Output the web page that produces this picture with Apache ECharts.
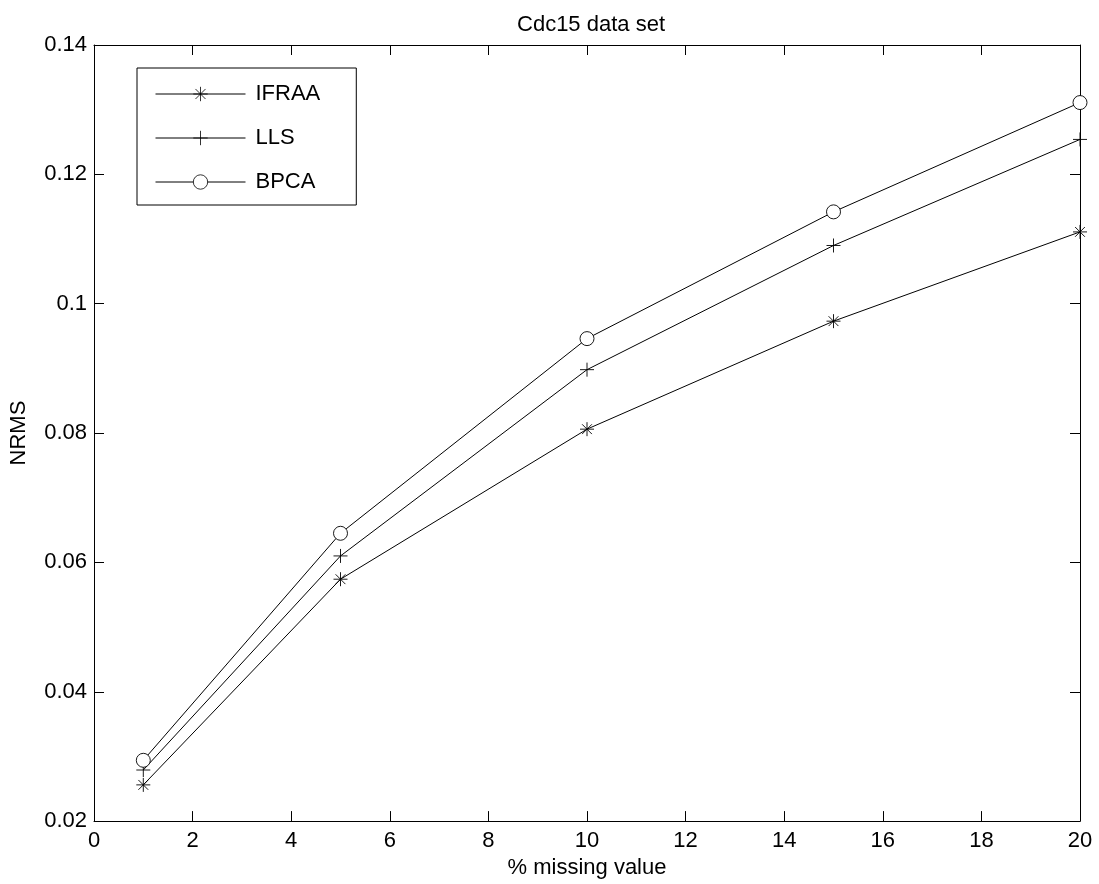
<!DOCTYPE html>
<html>
<head>
<meta charset="utf-8">
<script src="https://cdn.jsdelivr.net/npm/echarts@6/dist/echarts.min.js"></script>
<style>
  html, body { margin: 0; padding: 0; background: #fff; }
  #chart { width: 1099px; height: 884px; }
</style>
</head>
<body>
<div id="chart"></div>
<script>
// % missing value
const missing = [1, 5, 10, 15, 20];
// NRMS per method
const ifraa = [0.0256, 0.0574, 0.0806, 0.0973, 0.1111];
const lls = [0.0279, 0.0610, 0.0898, 0.1090, 0.1254];
const bpca = [0.0294, 0.0645, 0.0946, 0.1142, 0.1311];

const xTicks = [0, 2, 4, 6, 8, 10, 12, 14, 16, 18, 20];
const yTicks = [0.02, 0.04, 0.06, 0.08, 0.1, 0.12, 0.14];

const FONT = 'Liberation Sans, Arial, sans-serif';
const FS = 22;

// asterisk = plus + x
const starPath = 'path://M0,-1L0,1M-1,0L1,0M-0.7,-0.7L0.7,0.7M-0.7,0.7L0.7,-0.7';
const plusPath = 'path://M0,-1L0,1M-1,0L1,0';
// thin open circle (emptyCircle forces a 2px stroke)
const ringPath = 'path://M1,0A1,1,0,1,1,-1,0A1,1,0,1,1,1,0Z';

const pairs = (ys) => missing.map((x, i) => [x, ys[i]]);

const chart = echarts.init(document.getElementById('chart'));

function mkX(pos, show) {
  return {
    type: 'value',
    position: pos,
    min: xTicks[0],
    max: xTicks[xTicks.length - 1],
    interval: 2,
    axisLine: { show: true, onZero: false, lineStyle: { color: '#000', width: 1 } },
    axisTick: { show: true, inside: true, length: 10, lineStyle: { color: '#000' } },
    axisLabel: { show: show, color: '#000', fontSize: FS, fontFamily: FONT, margin: 9 },
    splitLine: { show: false }
  };
}

function mkY(pos, show) {
  return {
    type: 'value',
    position: pos,
    min: yTicks[0],
    max: yTicks[yTicks.length - 1],
    interval: 0.02,
    axisLine: { show: true, onZero: false, lineStyle: { color: '#000', width: 1 } },
    axisTick: { show: true, inside: true, length: 10, lineStyle: { color: '#000' } },
    axisLabel: {
      show: show, color: '#000', fontSize: FS, fontFamily: FONT, margin: 7,
      formatter: (v) => String(+v.toFixed(2))
    },
    splitLine: { show: false }
  };
}

const xBottom = mkX('bottom', true);
xBottom.name = '% missing value';
xBottom.nameLocation = 'middle';
xBottom.nameGap = 28;
xBottom.nameTextStyle = { color: '#000', fontSize: FS, fontFamily: FONT };

const yLeft = mkY('left', true);
yLeft.name = 'NRMS';
yLeft.nameLocation = 'middle';
yLeft.nameGap = 64;
yLeft.nameTextStyle = { color: '#000', fontSize: FS, fontFamily: FONT };

function mkSeries(name, ys, symbol, size, fill) {
  return {
    name: name,
    type: 'line',
    data: pairs(ys),
    symbol: symbol,
    symbolSize: size,
    showAllSymbol: true,
    lineStyle: { color: '#000', width: 1 },
    itemStyle: { color: fill, borderColor: '#000', borderWidth: 0.9 },
    emphasis: { disabled: true },
    animation: false
  };
}

chart.setOption({
  backgroundColor: '#fff',
  animation: false,
  title: {
    text: 'Cdc15 data set',
    left: 586,
    top: 9,
    textAlign: 'center',
    textStyle: { color: '#000', fontSize: FS, fontWeight: 'normal', fontFamily: FONT }
  },
  grid: { left: 93, right: 19, top: 45, bottom: 60, containLabel: false },
  legend: {
    orient: 'vertical',
    left: 137,
    top: 68,
    itemWidth: 90,
    itemHeight: 18,
    itemGap: 22,
    padding: [15, 36, 12, 18],
    borderColor: '#000',
    borderWidth: 1,
    backgroundColor: '#fff',
    lineStyle: { width: 1, color: '#000' },
    itemStyle: { borderColor: '#000', borderWidth: 0.8 },
    textStyle: { color: '#000', fontSize: FS, fontFamily: FONT, padding: [0, 0, 0, 5] },
    data: ['IFRAA', 'LLS', 'BPCA']
  },
  xAxis: [xBottom, mkX('top', false)],
  yAxis: [yLeft, mkY('right', false)],
  series: [
    mkSeries('IFRAA', ifraa, starPath, 14, '#000'),
    mkSeries('LLS', lls, plusPath, 14, '#000'),
    mkSeries('BPCA', bpca, ringPath, 14, '#fff')
  ]
});
</script>
</body>
</html>
